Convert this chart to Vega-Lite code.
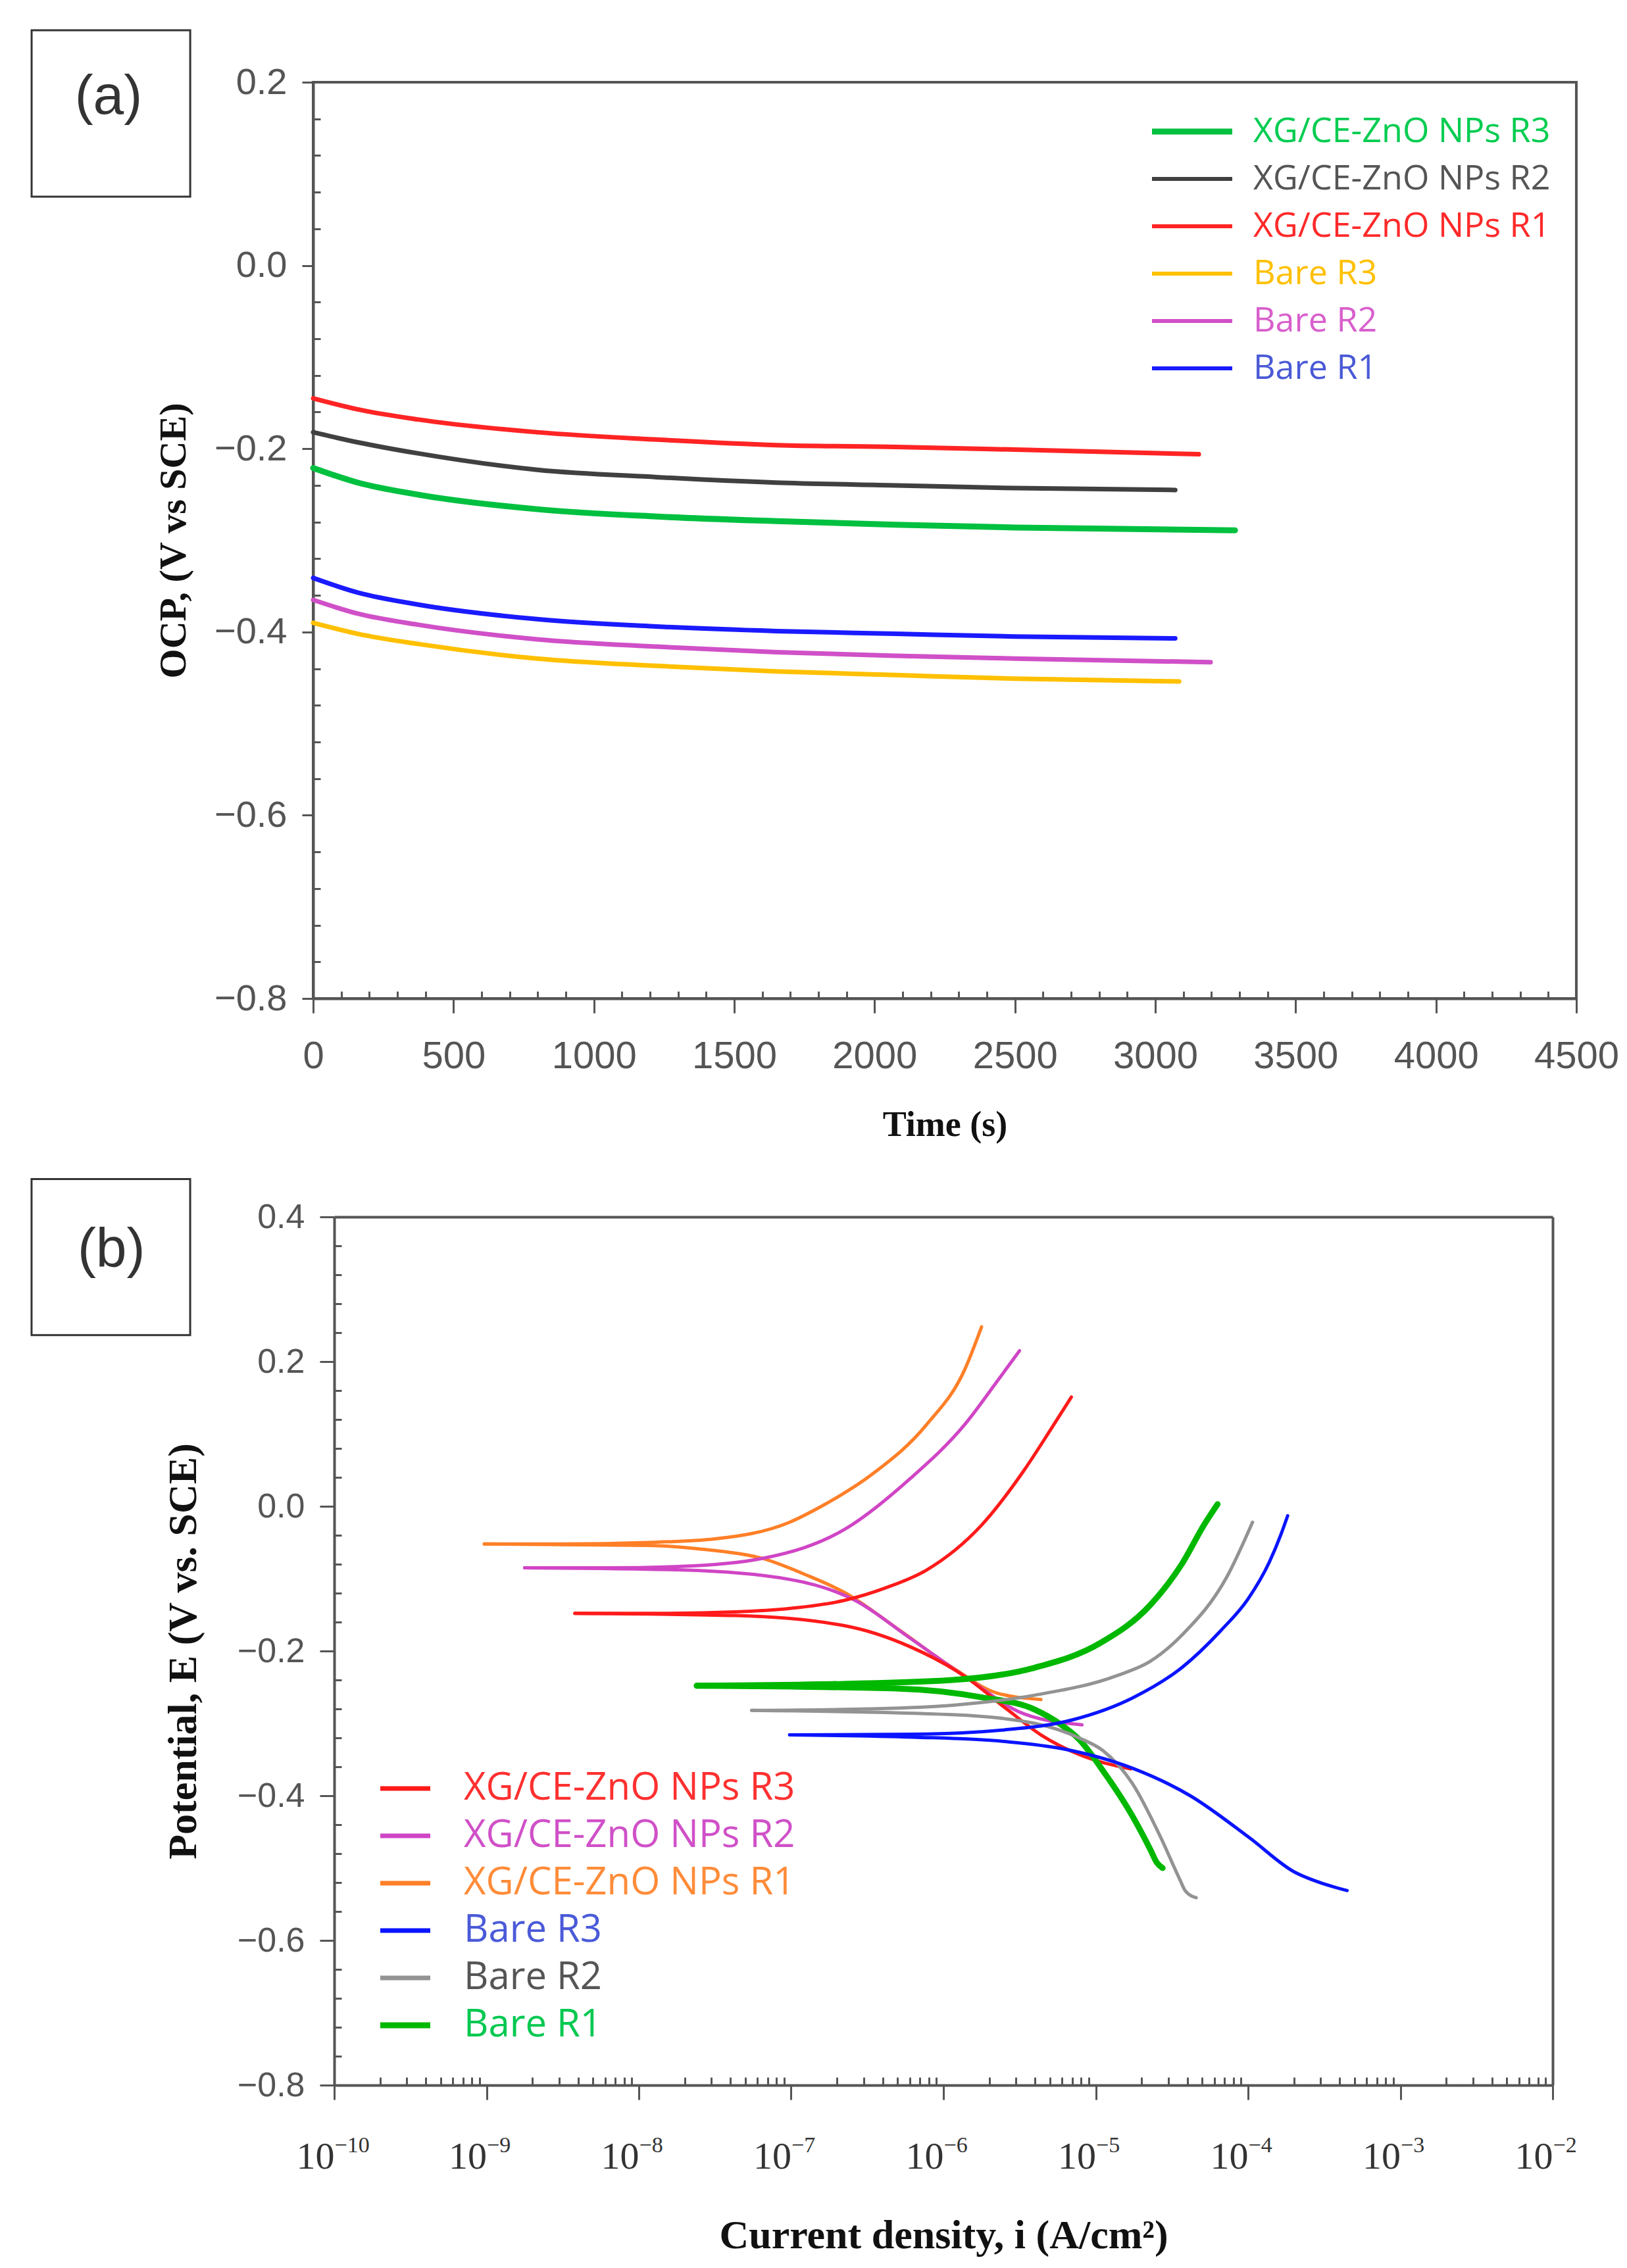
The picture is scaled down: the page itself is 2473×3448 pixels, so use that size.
{
  "$schema": "https://vega.github.io/schema/vega-lite/v6.json",
  "background": "white",
  "padding": {"left": 44, "top": 42, "right": 5, "bottom": 5},
  "columns": 1,
  "align": "none",
  "spacing": 52,
  "config": {
    "view": {"stroke": "#555555", "strokeWidth": 4},
    "axis": {"grid": false, "domainColor": "#555555", "domainWidth": 4, "tickColor": "#555555", "tickWidth": 3, "labelColor": "#555555", "labelFont": "Liberation Sans", "titleFont": "Liberation Serif", "titleFontWeight": "bold", "titleColor": "#111111", "labelFlush": false, "labelOverlap": false},
    "legend": {"labelFont": "Open Sans", "labelLimit": 1500, "padding": 0, "symbolFillColor": "transparent", "direction": "vertical", "columns": 1}
  },
  "resolve": {"scale": {"x": "independent", "y": "independent", "color": "independent"}, "axis": {"x": "independent", "y": "independent"}, "legend": {"color": "independent"}},
  "concat": [
    {
      "width": 1920,
      "height": 1393,
      "data": {"values": [
        {"s": "XG/CE-ZnO NPs R1", "t": 0, "v": -0.145}, {"s": "XG/CE-ZnO NPs R1", "t": 159, "v": -0.157}, {"s": "XG/CE-ZnO NPs R1", "t": 372, "v": -0.168}, {"s": "XG/CE-ZnO NPs R1", "t": 798, "v": -0.182}, {"s": "XG/CE-ZnO NPs R1", "t": 1224, "v": -0.190}, {"s": "XG/CE-ZnO NPs R1", "t": 1650, "v": -0.196}, {"s": "XG/CE-ZnO NPs R1", "t": 2076, "v": -0.198}, {"s": "XG/CE-ZnO NPs R1", "t": 2502, "v": -0.201}, {"s": "XG/CE-ZnO NPs R1", "t": 3155, "v": -0.206},
        {"s": "XG/CE-ZnO NPs R2", "t": 0, "v": -0.182}, {"s": "XG/CE-ZnO NPs R2", "t": 159, "v": -0.193}, {"s": "XG/CE-ZnO NPs R2", "t": 372, "v": -0.205}, {"s": "XG/CE-ZnO NPs R2", "t": 798, "v": -0.223}, {"s": "XG/CE-ZnO NPs R2", "t": 1224, "v": -0.231}, {"s": "XG/CE-ZnO NPs R2", "t": 1650, "v": -0.237}, {"s": "XG/CE-ZnO NPs R2", "t": 2076, "v": -0.240}, {"s": "XG/CE-ZnO NPs R2", "t": 2502, "v": -0.243}, {"s": "XG/CE-ZnO NPs R2", "t": 3071, "v": -0.245},
        {"s": "XG/CE-ZnO NPs R3", "t": 0, "v": -0.221}, {"s": "XG/CE-ZnO NPs R3", "t": 159, "v": -0.237}, {"s": "XG/CE-ZnO NPs R3", "t": 372, "v": -0.250}, {"s": "XG/CE-ZnO NPs R3", "t": 798, "v": -0.266}, {"s": "XG/CE-ZnO NPs R3", "t": 1224, "v": -0.274}, {"s": "XG/CE-ZnO NPs R3", "t": 1650, "v": -0.279}, {"s": "XG/CE-ZnO NPs R3", "t": 2076, "v": -0.283}, {"s": "XG/CE-ZnO NPs R3", "t": 2502, "v": -0.286}, {"s": "XG/CE-ZnO NPs R3", "t": 3284, "v": -0.289},
        {"s": "Bare R1", "t": 0, "v": -0.341}, {"s": "Bare R1", "t": 159, "v": -0.357}, {"s": "Bare R1", "t": 372, "v": -0.370}, {"s": "Bare R1", "t": 798, "v": -0.386}, {"s": "Bare R1", "t": 1224, "v": -0.394}, {"s": "Bare R1", "t": 1650, "v": -0.399}, {"s": "Bare R1", "t": 2076, "v": -0.402}, {"s": "Bare R1", "t": 2502, "v": -0.405}, {"s": "Bare R1", "t": 3071, "v": -0.407},
        {"s": "Bare R2", "t": 0, "v": -0.365}, {"s": "Bare R2", "t": 159, "v": -0.380}, {"s": "Bare R2", "t": 372, "v": -0.392}, {"s": "Bare R2", "t": 798, "v": -0.408}, {"s": "Bare R2", "t": 1224, "v": -0.416}, {"s": "Bare R2", "t": 1650, "v": -0.422}, {"s": "Bare R2", "t": 2076, "v": -0.426}, {"s": "Bare R2", "t": 2502, "v": -0.429}, {"s": "Bare R2", "t": 3197, "v": -0.433},
        {"s": "Bare R3", "t": 0, "v": -0.390}, {"s": "Bare R3", "t": 159, "v": -0.402}, {"s": "Bare R3", "t": 372, "v": -0.413}, {"s": "Bare R3", "t": 798, "v": -0.429}, {"s": "Bare R3", "t": 1224, "v": -0.437}, {"s": "Bare R3", "t": 1650, "v": -0.443}, {"s": "Bare R3", "t": 2076, "v": -0.447}, {"s": "Bare R3", "t": 2502, "v": -0.451}, {"s": "Bare R3", "t": 3085, "v": -0.454}
      ]},
      "resolve": {"axis": {"x": "independent", "y": "independent"}},
      "layer": [
        {
          "mark": {"type": "line", "interpolate": "monotone", "strokeCap": "round", "strokeJoin": "round"},
          "encoding": {
            "x": {"field": "t", "type": "quantitative", "scale": {"domain": [0, 4500], "nice": false, "zero": false},
              "axis": {"orient": "bottom", "values": [0, 500, 1000, 1500, 2000, 2500, 3000, 3500, 4000, 4500], "format": "d", "tickSize": 22, "labelFontSize": 58, "labelPadding": 37, "title": "Time (s)", "titleFontSize": 54, "titlePadding": 48}},
            "y": {"field": "v", "type": "quantitative", "scale": {"domain": [-0.8, 0.2], "nice": false, "zero": false},
              "axis": {"orient": "left", "values": [-0.8, -0.6, -0.4, -0.2, 0, 0.2], "format": ".1f", "tickSize": 17, "labelFontSize": 56, "labelPadding": 23, "title": "OCP, (V vs SCE)", "titleFontSize": 58, "titlePadding": 32}},
            "order": {"field": "t", "type": "quantitative"},
            "color": {"field": "s", "type": "nominal",
              "scale": {"domain": ["XG/CE-ZnO NPs R3", "XG/CE-ZnO NPs R2", "XG/CE-ZnO NPs R1", "Bare R3", "Bare R2", "Bare R1"], "range": ["#00c040", "#404040", "#ff2424", "#ffc000", "#d050c8", "#1a1aff"]},
              "legend": {"title": null, "orient": "none", "legendX": 1274, "legendY": 49, "symbolType": "M-1,0H3.88", "symbolSize": 2500, "symbolStrokeWidth": 6, "labelFontSize": 52, "labelOffset": 103, "rowPadding": 20,
                "encode": {
                  "labels": {"update": {"fill": {"signal": "datum.value === 'XG/CE-ZnO NPs R3' ? '#00cc50' : datum.value === 'XG/CE-ZnO NPs R2' ? '#555555' : datum.value === 'XG/CE-ZnO NPs R1' ? '#ff2a2a' : datum.value === 'Bare R3' ? '#ffc000' : datum.value === 'Bare R2' ? '#d85fcc' : '#4a5ad6'"}}},
                  "symbols": {"update": {"strokeWidth": {"signal": "datum.value === 'XG/CE-ZnO NPs R3' ? 9 : 6"}}}
                }}},
            "strokeWidth": {"condition": {"test": "datum.s === 'XG/CE-ZnO NPs R3'", "value": 9}, "value": 7}
          }
        },
        {
          "mark": {"type": "point", "opacity": 0},
          "encoding": {
            "x": {"field": "t", "type": "quantitative", "scale": {"domain": [0, 4500], "nice": false, "zero": false},
              "axis": {"orient": "bottom", "values": [100, 200, 300, 400, 600, 700, 800, 900, 1100, 1200, 1300, 1400, 1600, 1700, 1800, 1900, 2100, 2200, 2300, 2400, 2600, 2700, 2800, 2900, 3100, 3200, 3300, 3400, 3600, 3700, 3800, 3900, 4100, 4200, 4300, 4400], "labels": false, "domain": false, "tickSize": -11, "title": null}},
            "y": {"field": "v", "type": "quantitative", "scale": {"domain": [-0.8, 0.2], "nice": false, "zero": false},
              "axis": {"orient": "left", "values": [-0.76, -0.72, -0.68, -0.64, -0.56, -0.52, -0.48, -0.44, -0.36, -0.32, -0.28, -0.24, -0.16, -0.12, -0.08, -0.04, 0.04, 0.08, 0.12, 0.16], "labels": false, "domain": false, "tickSize": -11, "title": null}}
          }
        },
        {
          "data": {"values": [{"label": "(a)"}]},
          "mark": {"type": "rect", "filled": false, "stroke": "#333333", "strokeWidth": 3},
          "encoding": {
            "x": {"datum": -1003, "type": "quantitative", "scale": {"domain": [0, 4500], "nice": false, "zero": false}, "axis": null},
            "x2": {"datum": -438},
            "y": {"datum": 0.2567, "type": "quantitative", "scale": {"domain": [-0.8, 0.2], "nice": false, "zero": false}, "axis": null},
            "y2": {"datum": 0.0751}
          }
        },
        {
          "data": {"values": [{"label": "(a)"}]},
          "mark": {"type": "text", "font": "Liberation Sans", "fontSize": 84, "color": "#333333", "align": "center", "baseline": "middle"},
          "encoding": {
            "x": {"datum": -729, "type": "quantitative", "scale": {"domain": [0, 4500], "nice": false, "zero": false}, "axis": null},
            "y": {"datum": 0.1835, "type": "quantitative", "scale": {"domain": [-0.8, 0.2], "nice": false, "zero": false}, "axis": null},
            "text": {"field": "label"}
          }
        }
      ]
    },
    {
      "width": 1884,
      "height": 1320,
      "view": {"stroke": null},
      "data": {"values": [
        {"c": "XG/CE-ZnO NPs R1", "b": "an", "i": 9.66e-10, "e": -0.052}, {"c": "XG/CE-ZnO NPs R1", "b": "an", "i": 3.16e-9, "e": -0.052}, {"c": "XG/CE-ZnO NPs R1", "b": "an", "i": 1.15e-8, "e": -0.050}, {"c": "XG/CE-ZnO NPs R1", "b": "an", "i": 3.16e-8, "e": -0.045}, {"c": "XG/CE-ZnO NPs R1", "b": "an", "i": 9.77e-8, "e": -0.022}, {"c": "XG/CE-ZnO NPs R1", "b": "an", "i": 1.58e-7, "e": 0.000}, {"c": "XG/CE-ZnO NPs R1", "b": "an", "i": 3.39e-7, "e": 0.044}, {"c": "XG/CE-ZnO NPs R1", "b": "an", "i": 7.76e-7, "e": 0.113}, {"c": "XG/CE-ZnO NPs R1", "b": "an", "i": 1.38e-6, "e": 0.189}, {"c": "XG/CE-ZnO NPs R1", "b": "an", "i": 1.78e-6, "e": 0.248},
        {"c": "XG/CE-ZnO NPs R1", "b": "ca", "i": 9.66e-10, "e": -0.052}, {"c": "XG/CE-ZnO NPs R1", "b": "ca", "i": 1.15e-8, "e": -0.054}, {"c": "XG/CE-ZnO NPs R1", "b": "ca", "i": 2.82e-8, "e": -0.060}, {"c": "XG/CE-ZnO NPs R1", "b": "ca", "i": 6.46e-8, "e": -0.072}, {"c": "XG/CE-ZnO NPs R1", "b": "ca", "i": 1.26e-7, "e": -0.095}, {"c": "XG/CE-ZnO NPs R1", "b": "ca", "i": 2.24e-7, "e": -0.119}, {"c": "XG/CE-ZnO NPs R1", "b": "ca", "i": 5.13e-7, "e": -0.171}, {"c": "XG/CE-ZnO NPs R1", "b": "ca", "i": 1.15e-6, "e": -0.223}, {"c": "XG/CE-ZnO NPs R1", "b": "ca", "i": 2.24e-6, "e": -0.258}, {"c": "XG/CE-ZnO NPs R1", "b": "ca", "i": 4.37e-6, "e": -0.267},
        {"c": "XG/CE-ZnO NPs R2", "b": "an", "i": 1.78e-9, "e": -0.085}, {"c": "XG/CE-ZnO NPs R2", "b": "an", "i": 6.31e-9, "e": -0.085}, {"c": "XG/CE-ZnO NPs R2", "b": "an", "i": 1.91e-8, "e": -0.083}, {"c": "XG/CE-ZnO NPs R2", "b": "an", "i": 6.46e-8, "e": -0.072}, {"c": "XG/CE-ZnO NPs R2", "b": "an", "i": 2.24e-7, "e": -0.032}, {"c": "XG/CE-ZnO NPs R2", "b": "an", "i": 6.03e-7, "e": 0.038}, {"c": "XG/CE-ZnO NPs R2", "b": "an", "i": 1.38e-6, "e": 0.113}, {"c": "XG/CE-ZnO NPs R2", "b": "an", "i": 2.24e-6, "e": 0.172}, {"c": "XG/CE-ZnO NPs R2", "b": "an", "i": 3.16e-6, "e": 0.215},
        {"c": "XG/CE-ZnO NPs R2", "b": "ca", "i": 1.78e-9, "e": -0.085}, {"c": "XG/CE-ZnO NPs R2", "b": "ca", "i": 1.91e-8, "e": -0.088}, {"c": "XG/CE-ZnO NPs R2", "b": "ca", "i": 9.77e-8, "e": -0.101}, {"c": "XG/CE-ZnO NPs R2", "b": "ca", "i": 2.63e-7, "e": -0.130}, {"c": "XG/CE-ZnO NPs R2", "b": "ca", "i": 6.03e-7, "e": -0.182}, {"c": "XG/CE-ZnO NPs R2", "b": "ca", "i": 1.38e-6, "e": -0.235}, {"c": "XG/CE-ZnO NPs R2", "b": "ca", "i": 3.39e-6, "e": -0.287}, {"c": "XG/CE-ZnO NPs R2", "b": "ca", "i": 8.13e-6, "e": -0.302},
        {"c": "XG/CE-ZnO NPs R3", "b": "an", "i": 3.80e-9, "e": -0.148}, {"c": "XG/CE-ZnO NPs R3", "b": "an", "i": 1.26e-8, "e": -0.148}, {"c": "XG/CE-ZnO NPs R3", "b": "an", "i": 4.27e-8, "e": -0.146}, {"c": "XG/CE-ZnO NPs R3", "b": "an", "i": 1.0e-7, "e": -0.141}, {"c": "XG/CE-ZnO NPs R3", "b": "an", "i": 2.24e-7, "e": -0.130}, {"c": "XG/CE-ZnO NPs R3", "b": "an", "i": 4.27e-7, "e": -0.112}, {"c": "XG/CE-ZnO NPs R3", "b": "an", "i": 7.76e-7, "e": -0.088}, {"c": "XG/CE-ZnO NPs R3", "b": "an", "i": 1.78e-6, "e": -0.026}, {"c": "XG/CE-ZnO NPs R3", "b": "an", "i": 3.39e-6, "e": 0.050}, {"c": "XG/CE-ZnO NPs R3", "b": "an", "i": 5.13e-6, "e": 0.108}, {"c": "XG/CE-ZnO NPs R3", "b": "an", "i": 6.92e-6, "e": 0.151},
        {"c": "XG/CE-ZnO NPs R3", "b": "ca", "i": 3.80e-9, "e": -0.148}, {"c": "XG/CE-ZnO NPs R3", "b": "ca", "i": 4.27e-8, "e": -0.151}, {"c": "XG/CE-ZnO NPs R3", "b": "ca", "i": 2.24e-7, "e": -0.165}, {"c": "XG/CE-ZnO NPs R3", "b": "ca", "i": 6.03e-7, "e": -0.194}, {"c": "XG/CE-ZnO NPs R3", "b": "ca", "i": 1.38e-6, "e": -0.235}, {"c": "XG/CE-ZnO NPs R3", "b": "ca", "i": 2.63e-6, "e": -0.281}, {"c": "XG/CE-ZnO NPs R3", "b": "ca", "i": 4.37e-6, "e": -0.316}, {"c": "XG/CE-ZnO NPs R3", "b": "ca", "i": 7.76e-6, "e": -0.343}, {"c": "XG/CE-ZnO NPs R3", "b": "ca", "i": 1.70e-5, "e": -0.363},
        {"c": "Bare R1", "b": "an", "i": 2.40e-8, "e": -0.248}, {"c": "Bare R1", "b": "an", "i": 1.58e-7, "e": -0.246}, {"c": "Bare R1", "b": "an", "i": 1.15e-6, "e": -0.240}, {"c": "Bare R1", "b": "an", "i": 3.98e-6, "e": -0.223}, {"c": "Bare R1", "b": "an", "i": 1.07e-5, "e": -0.189}, {"c": "Bare R1", "b": "an", "i": 2.29e-5, "e": -0.136}, {"c": "Bare R1", "b": "an", "i": 3.72e-5, "e": -0.078}, {"c": "Bare R1", "b": "an", "i": 5.13e-5, "e": -0.026}, {"c": "Bare R1", "b": "an", "i": 6.31e-5, "e": 0.003},
        {"c": "Bare R1", "b": "ca", "i": 2.40e-8, "e": -0.248}, {"c": "Bare R1", "b": "ca", "i": 5.13e-7, "e": -0.252}, {"c": "Bare R1", "b": "ca", "i": 1.78e-6, "e": -0.264}, {"c": "Bare R1", "b": "ca", "i": 3.98e-6, "e": -0.281}, {"c": "Bare R1", "b": "ca", "i": 5.75e-6, "e": -0.300}, {"c": "Bare R1", "b": "ca", "i": 7.76e-6, "e": -0.322}, {"c": "Bare R1", "b": "ca", "i": 1.12e-5, "e": -0.366}, {"c": "Bare R1", "b": "ca", "i": 1.74e-5, "e": -0.428}, {"c": "Bare R1", "b": "ca", "i": 2.29e-5, "e": -0.475}, {"c": "Bare R1", "b": "ca", "i": 2.51e-5, "e": -0.492}, {"c": "Bare R1", "b": "ca", "i": 2.75e-5, "e": -0.500},
        {"c": "Bare R2", "b": "an", "i": 5.50e-8, "e": -0.282}, {"c": "Bare R2", "b": "an", "i": 3.16e-7, "e": -0.280}, {"c": "Bare R2", "b": "an", "i": 1.15e-6, "e": -0.275}, {"c": "Bare R2", "b": "an", "i": 3.98e-6, "e": -0.261}, {"c": "Bare R2", "b": "an", "i": 1.38e-5, "e": -0.234}, {"c": "Bare R2", "b": "an", "i": 2.29e-5, "e": -0.214}, {"c": "Bare R2", "b": "an", "i": 3.72e-5, "e": -0.177}, {"c": "Bare R2", "b": "an", "i": 7.24e-5, "e": -0.098}, {"c": "Bare R2", "b": "an", "i": 1.07e-4, "e": -0.022},
        {"c": "Bare R2", "b": "ca", "i": 5.50e-8, "e": -0.282}, {"c": "Bare R2", "b": "ca", "i": 1.15e-6, "e": -0.288}, {"c": "Bare R2", "b": "ca", "i": 3.98e-6, "e": -0.300}, {"c": "Bare R2", "b": "ca", "i": 7.76e-6, "e": -0.320}, {"c": "Bare R2", "b": "ca", "i": 1.12e-5, "e": -0.338}, {"c": "Bare R2", "b": "ca", "i": 1.74e-5, "e": -0.383}, {"c": "Bare R2", "b": "ca", "i": 2.69e-5, "e": -0.459}, {"c": "Bare R2", "b": "ca", "i": 3.55e-5, "e": -0.515}, {"c": "Bare R2", "b": "ca", "i": 3.89e-5, "e": -0.532}, {"c": "Bare R2", "b": "ca", "i": 4.57e-5, "e": -0.541},
        {"c": "Bare R3", "b": "an", "i": 9.77e-8, "e": -0.316}, {"c": "Bare R3", "b": "an", "i": 6.31e-7, "e": -0.315}, {"c": "Bare R3", "b": "an", "i": 2.51e-6, "e": -0.309}, {"c": "Bare R3", "b": "an", "i": 7.08e-6, "e": -0.295}, {"c": "Bare R3", "b": "an", "i": 1.74e-5, "e": -0.265}, {"c": "Bare R3", "b": "an", "i": 3.72e-5, "e": -0.222}, {"c": "Bare R3", "b": "an", "i": 6.61e-5, "e": -0.172}, {"c": "Bare R3", "b": "an", "i": 1.0e-4, "e": -0.128}, {"c": "Bare R3", "b": "an", "i": 1.38e-4, "e": -0.077}, {"c": "Bare R3", "b": "an", "i": 1.65e-4, "e": -0.038}, {"c": "Bare R3", "b": "an", "i": 1.82e-4, "e": -0.013},
        {"c": "Bare R3", "b": "ca", "i": 9.77e-8, "e": -0.316}, {"c": "Bare R3", "b": "ca", "i": 6.31e-7, "e": -0.319}, {"c": "Bare R3", "b": "ca", "i": 2.51e-6, "e": -0.325}, {"c": "Bare R3", "b": "ca", "i": 6.03e-6, "e": -0.335}, {"c": "Bare R3", "b": "ca", "i": 1.74e-5, "e": -0.362}, {"c": "Bare R3", "b": "ca", "i": 4.17e-5, "e": -0.400}, {"c": "Bare R3", "b": "ca", "i": 1.02e-4, "e": -0.458}, {"c": "Bare R3", "b": "ca", "i": 2.0e-4, "e": -0.505}, {"c": "Bare R3", "b": "ca", "i": 3.16e-4, "e": -0.522}, {"c": "Bare R3", "b": "ca", "i": 4.47e-4, "e": -0.531}
      ]},
      "resolve": {"axis": {"x": "independent", "y": "independent"}},
      "layer": [
        {
          "mark": {"type": "line", "interpolate": "monotone", "strokeCap": "round", "strokeJoin": "round"},
          "encoding": {
            "x": {"field": "i", "type": "quantitative", "scale": {"type": "log", "domain": [1e-10, 1e-2], "range": [32, 1884], "nice": false},
              "axis": {"orient": "bottom", "values": [1e-10, 1e-9, 1e-8, 1e-7, 1e-6, 1e-5, 1e-4, 1e-3, 1e-2], "labelExpr": "'10'", "labelAlign": "right", "labelDx": 16, "labelFont": "Liberation Serif", "labelColor": "#333333", "tickSize": 22, "labelFontSize": 58, "labelPadding": 58, "title": "Current density, i (A/cm²)", "titleFontSize": 62, "titlePadding": 60}},
            "y": {"field": "e", "type": "quantitative", "scale": {"domain": [-0.8, 0.4], "nice": false, "zero": false},
              "axis": {"orient": "left", "offset": -32, "values": [-0.8, -0.6, -0.4, -0.2, 0, 0.2, 0.4], "format": ".1f", "tickSize": 22, "labelFontSize": 52, "labelPadding": 23, "title": "Potential, E (V vs. SCE)", "titleFontSize": 62, "titlePadding": 50}},
            "order": {"field": "i", "type": "quantitative"},
            "detail": {"field": "b", "type": "nominal"},
            "color": {"field": "c", "type": "nominal",
              "scale": {"domain": ["XG/CE-ZnO NPs R3", "XG/CE-ZnO NPs R2", "XG/CE-ZnO NPs R1", "Bare R3", "Bare R2", "Bare R1"], "range": ["#ff1a1a", "#d045c5", "#ff7f27", "#0a14ff", "#939393", "#00b800"]},
              "legend": {"title": null, "orient": "none", "legendX": 98, "legendY": 840, "symbolType": "M-1,0H2.04", "symbolSize": 2500, "symbolStrokeWidth": 7, "labelFontSize": 58, "labelOffset": 73, "rowPadding": 14,
                "encode": {
                  "labels": {"update": {"fill": {"signal": "datum.value === 'XG/CE-ZnO NPs R3' ? '#ff3030' : datum.value === 'XG/CE-ZnO NPs R2' ? '#d050c8' : datum.value === 'XG/CE-ZnO NPs R1' ? '#ff8c3a' : datum.value === 'Bare R3' ? '#4a5ad8' : datum.value === 'Bare R2' ? '#555555' : '#00c850'"}}},
                  "symbols": {"update": {"strokeWidth": {"signal": "datum.value === 'Bare R1' ? 9 : 7"}}}
                }}},
            "strokeWidth": {"condition": {"test": "datum.c === 'Bare R1'", "value": 9}, "value": 5}
          }
        },
        {
          "mark": {"type": "point", "opacity": 0},
          "encoding": {
            "x": {"field": "i", "type": "quantitative", "scale": {"type": "log", "domain": [1e-10, 1e-2], "range": [32, 1884], "nice": false},
              "axis": {"orient": "bottom", "values": [2e-10, 3e-10, 4e-10, 5e-10, 6e-10, 7e-10, 8e-10, 9e-10, 2e-9, 3e-9, 4e-9, 5e-9, 6e-9, 7e-9, 8e-9, 9e-9, 2e-8, 3e-8, 4e-8, 5e-8, 6e-8, 7e-8, 8e-8, 9e-8, 2e-7, 3e-7, 4e-7, 5e-7, 6e-7, 7e-7, 8e-7, 9e-7, 2e-6, 3e-6, 4e-6, 5e-6, 6e-6, 7e-6, 8e-6, 9e-6, 2e-5, 3e-5, 4e-5, 5e-5, 6e-5, 7e-5, 8e-5, 9e-5, 2e-4, 3e-4, 4e-4, 5e-4, 6e-4, 7e-4, 8e-4, 9e-4, 2e-3, 3e-3, 4e-3, 5e-3, 6e-3, 7e-3, 8e-3, 9e-3], "labels": false, "domain": false, "tickSize": -12, "title": null}},
            "y": {"field": "e", "type": "quantitative", "scale": {"domain": [-0.8, 0.4], "nice": false, "zero": false},
              "axis": {"orient": "left", "offset": -32, "values": [-0.76, -0.72, -0.68, -0.64, -0.56, -0.52, -0.48, -0.44, -0.36, -0.32, -0.28, -0.24, -0.16, -0.12, -0.08, -0.04, 0.04, 0.08, 0.12, 0.16, 0.24, 0.28, 0.32, 0.36], "labels": false, "domain": false, "tickSize": -11, "title": null}}
          }
        },
        {
          "mark": {"type": "point", "opacity": 0},
          "encoding": {
            "x": {"field": "i", "type": "quantitative", "scale": {"type": "log", "domain": [1e-10, 1e-2], "range": [32, 1884], "nice": false},
              "axis": {"orient": "bottom", "values": [1e-10, 1e-9, 1e-8, 1e-7, 1e-6, 1e-5, 1e-4, 1e-3, 1e-2], "labelExpr": "'−' + format(-log(datum.value) / LN10, '.0f')", "labelAlign": "left", "labelDx": 20, "labelFont": "Liberation Serif", "labelColor": "#333333", "labelFontSize": 34, "ticks": false, "domain": false, "labelPadding": 74, "title": null}},
            "y": {"field": "e", "type": "quantitative", "scale": {"domain": [-0.8, 0.4], "nice": false, "zero": false}, "axis": null}
          }
        },
        {
          "mark": {"type": "point", "opacity": 0},
          "encoding": {
            "x": {"field": "i", "type": "quantitative", "scale": {"type": "log", "domain": [1e-10, 1e-2], "range": [32, 1884], "nice": false},
              "axis": {"orient": "top", "ticks": false, "labels": false, "domain": true, "title": null}},
            "y": {"field": "e", "type": "quantitative", "scale": {"domain": [-0.8, 0.4], "nice": false, "zero": false},
              "axis": {"orient": "right", "ticks": false, "labels": false, "domain": true, "title": null}}
          }
        },
        {
          "data": {"values": [{"label": "(b)"}]},
          "mark": {"type": "rect", "filled": false, "stroke": "#333333", "strokeWidth": 3},
          "encoding": {
            "x": {"datum": 1.03e-12, "type": "quantitative", "scale": {"type": "log", "domain": [1e-10, 1e-2], "range": [32, 1884], "nice": false}, "axis": null},
            "x2": {"datum": 1.133e-11},
            "y": {"datum": 0.4522, "type": "quantitative", "scale": {"domain": [-0.8, 0.4], "nice": false, "zero": false}, "axis": null},
            "y2": {"datum": 0.2367}
          }
        },
        {
          "data": {"values": [{"label": "(b)"}]},
          "mark": {"type": "text", "font": "Liberation Sans", "fontSize": 84, "color": "#333333", "align": "center", "baseline": "middle"},
          "encoding": {
            "x": {"datum": 3.44e-12, "type": "quantitative", "scale": {"type": "log", "domain": [1e-10, 1e-2], "range": [32, 1884], "nice": false}, "axis": null},
            "y": {"datum": 0.354, "type": "quantitative", "scale": {"domain": [-0.8, 0.4], "nice": false, "zero": false}, "axis": null},
            "text": {"field": "label"}
          }
        }
      ]
    }
  ]
}
